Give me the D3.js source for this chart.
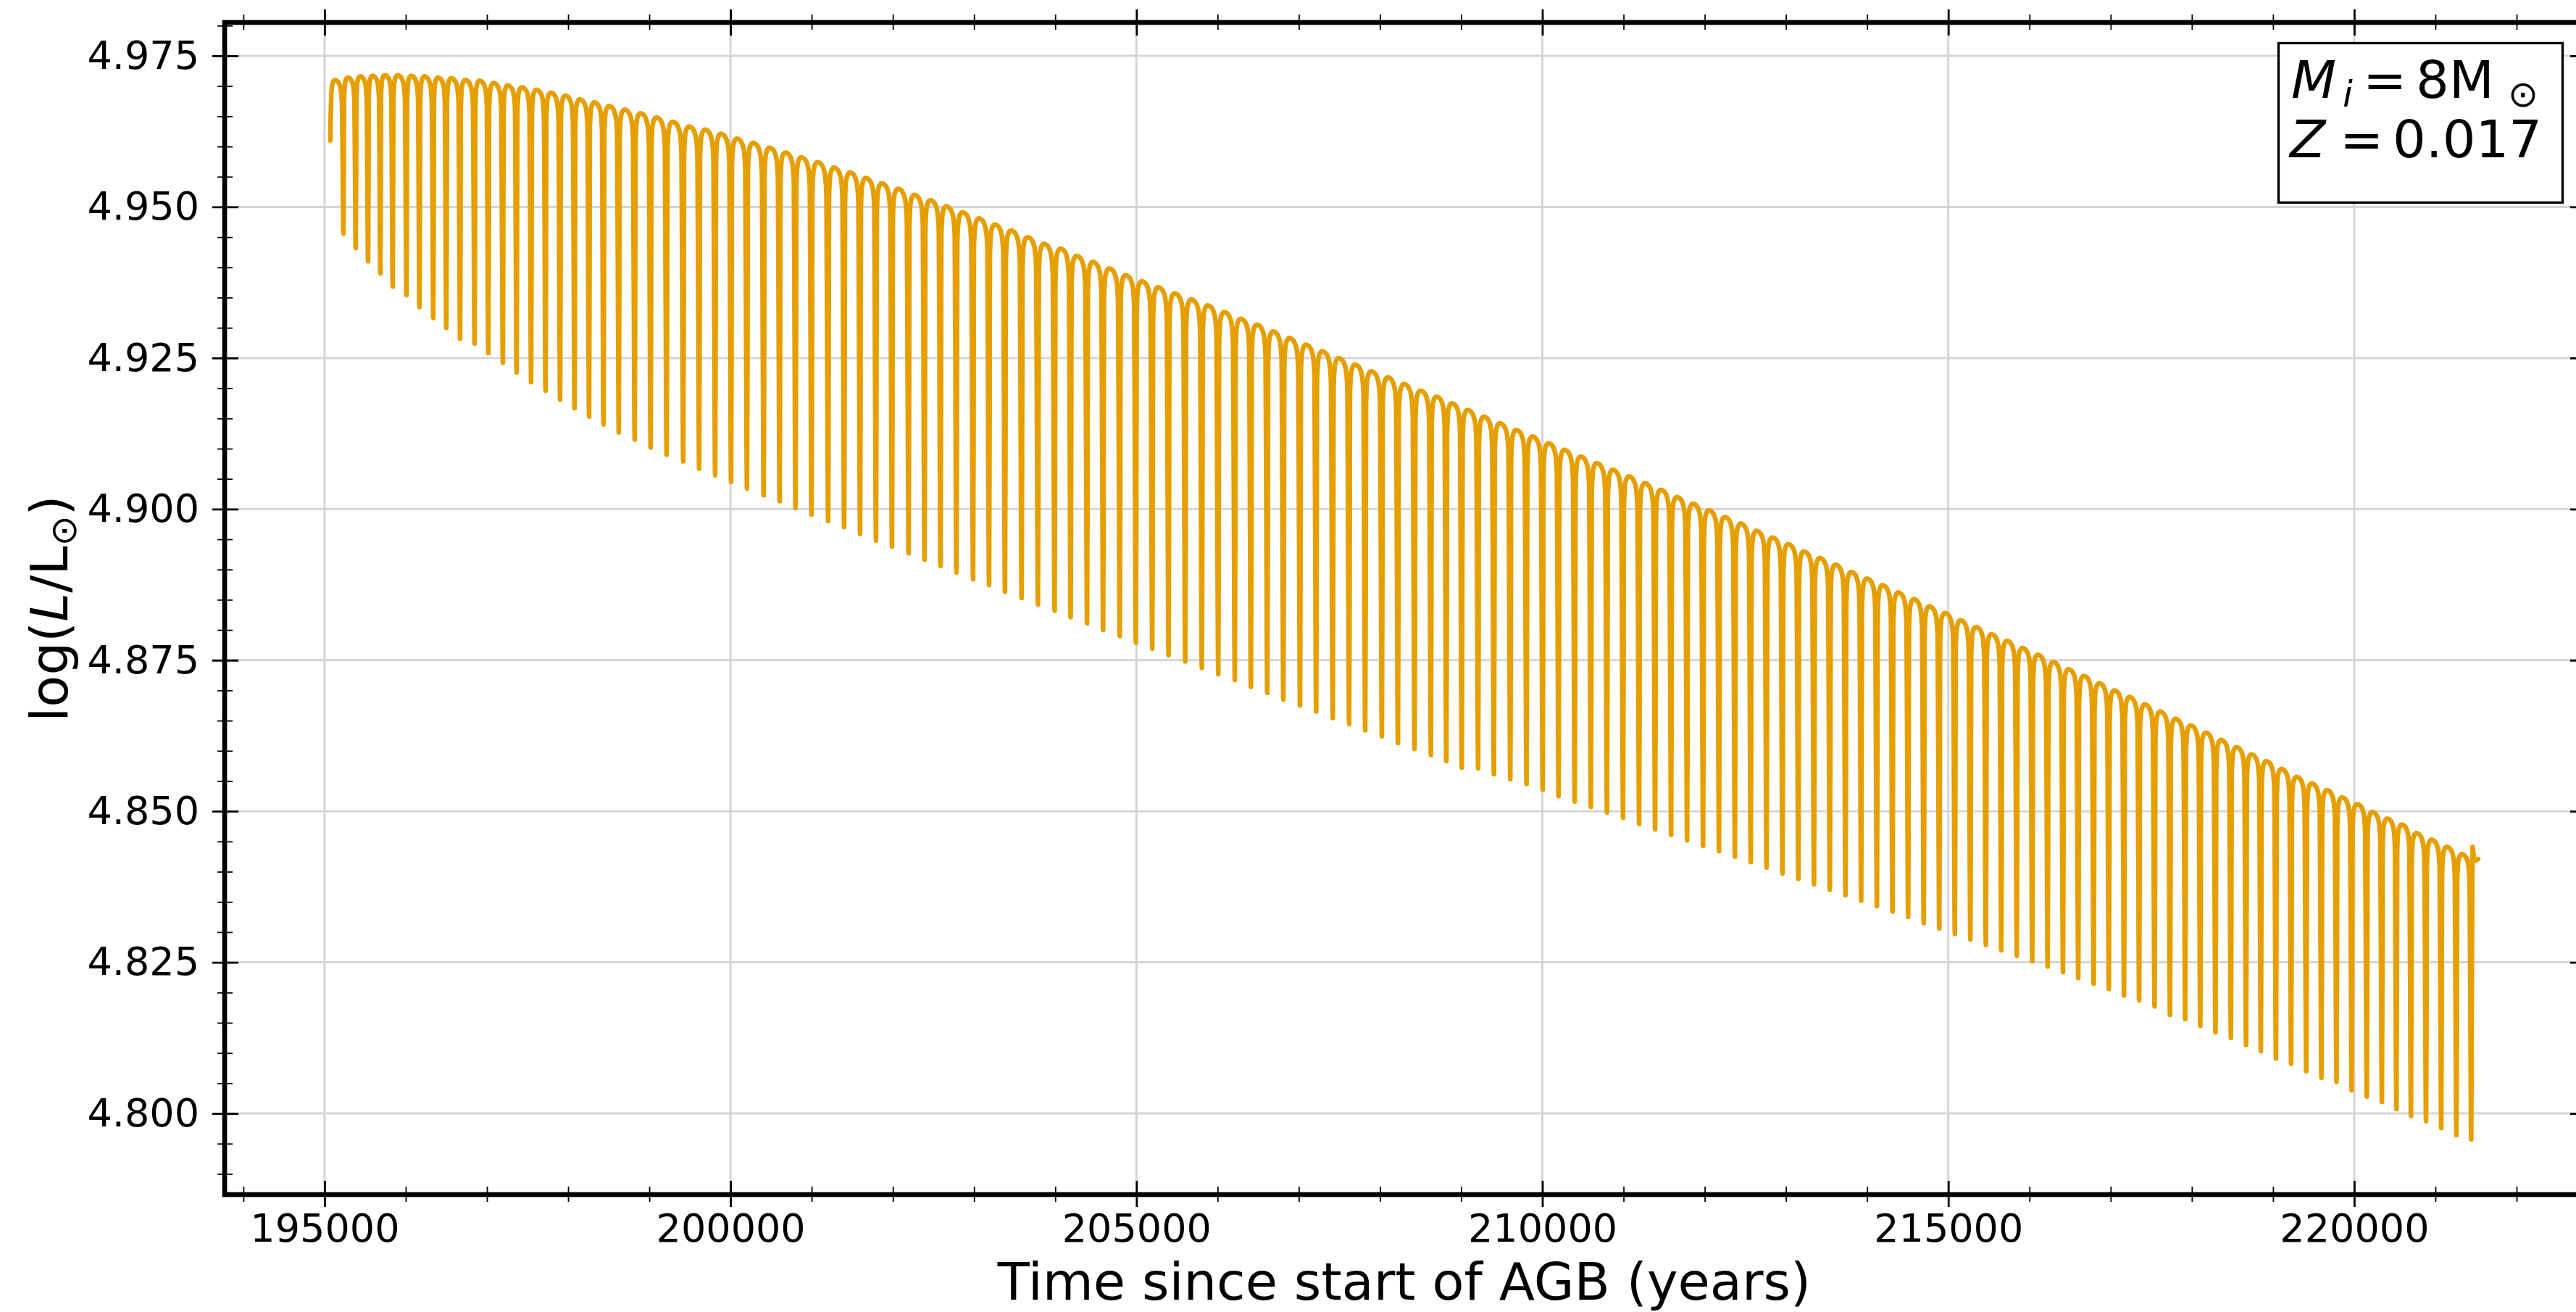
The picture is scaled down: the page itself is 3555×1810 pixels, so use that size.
<!DOCTYPE html>
<html>
<head>
<meta charset="utf-8">
<script src="https://cdn.jsdelivr.net/npm/d3@7"></script>
<style>
  html, body { margin: 0; padding: 0; background: #fff; }
  svg { display: block; }
  text { font-family: "DejaVu Sans", sans-serif; }
</style>
</head>
<body>
<div class="chart"></div>
<script>
// times of the thermal-pulse dips (years since start of AGB)
const dipTimes = [
  195232, 195384, 195536, 195687, 195839, 196009, 196169, 196339, 196499, 196669,
  196848, 197017, 197196, 197365, 197544, 197722, 197901, 198079, 198258, 198436,
  198624, 198820, 199016, 199213, 199418, 199614, 199811, 200007, 200203, 200409,
  200605, 200801, 200998, 201203, 201400, 201596, 201792, 201989, 202194, 202390,
  202587, 202783, 202988, 203185, 203381, 203586, 203787, 203992, 204190, 204392,
  204590, 204795, 204993, 205195, 205396, 205601, 205806, 206008, 206212, 206410,
  206612, 206810, 207015, 207214, 207418, 207620, 207818, 208023, 208221, 208426,
  208627, 208817, 209007, 209209, 209403, 209605, 209805, 210004, 210200, 210399,
  210598, 210796, 210994, 211192, 211389, 211586, 211783, 211980, 212176, 212372,
  212567, 212762, 212958, 213153, 213346, 213541, 213734, 213927, 214121, 214313,
  214506, 214698, 214889, 215081, 215272, 215463, 215653, 215844, 216034, 216224,
  216413, 216601, 216791, 216978, 217165, 217351, 217541, 217731, 217918, 218104,
  218291, 218481, 218668, 218850, 219036, 219223, 219409, 219596, 219782, 219969,
  220155, 220341, 220520, 220699, 220885, 221072, 221259, 221441
];

// log(L/Lsun) at the bottom of each dip
const dipLogL = [
  4.9456, 4.9432, 4.9410, 4.9390, 4.9368, 4.9354, 4.9334, 4.9316, 4.9300, 4.9282,
  4.9274, 4.9258, 4.9242, 4.9226, 4.9210, 4.9196, 4.9181, 4.9167, 4.9153, 4.9140,
  4.9127, 4.9115, 4.9102, 4.9090, 4.9079, 4.9067, 4.9056, 4.9045, 4.9034, 4.9023,
  4.9013, 4.9002, 4.8991, 4.8980, 4.8970, 4.8959, 4.8948, 4.8938, 4.8927, 4.8916,
  4.8906, 4.8895, 4.8884, 4.8874, 4.8863, 4.8853, 4.8842, 4.8832, 4.8821, 4.8811,
  4.8800, 4.8790, 4.8779, 4.8769, 4.8758, 4.8748, 4.8737, 4.8727, 4.8717, 4.8706,
  4.8696, 4.8685, 4.8675, 4.8665, 4.8654, 4.8644, 4.8634, 4.8624, 4.8613, 4.8603,
  4.8593, 4.8583, 4.8572, 4.8571, 4.8561, 4.8553, 4.8545, 4.8536, 4.8525, 4.8516,
  4.8507, 4.8498, 4.8489, 4.8479, 4.8470, 4.8461, 4.8452, 4.8443, 4.8434, 4.8425,
  4.8416, 4.8407, 4.8397, 4.8388, 4.8379, 4.8370, 4.8361, 4.8352, 4.8343, 4.8334,
  4.8325, 4.8315, 4.8306, 4.8297, 4.8288, 4.8279, 4.8270, 4.8261, 4.8252, 4.8243,
  4.8234, 4.8224, 4.8215, 4.8206, 4.8195, 4.8187, 4.8177, 4.8163, 4.8156, 4.8145,
  4.8134, 4.8125, 4.8113, 4.8103, 4.8091, 4.8082, 4.8070, 4.8059, 4.8052, 4.8038,
  4.8028, 4.8019, 4.8007, 4.7996, 4.7987, 4.7976, 4.7964, 4.7957
];

// top of each interpulse arch (index 0 = arch before the first dip)
const peakLogL = [
  4.9710, 4.9714, 4.9716, 4.9717, 4.9718, 4.9718, 4.9717, 4.9716, 4.9714, 4.9713,
  4.9710, 4.9709, 4.9705, 4.9701, 4.9698, 4.9694, 4.9689, 4.9684, 4.9678, 4.9673,
  4.9667, 4.9661, 4.9655, 4.9648, 4.9641, 4.9633, 4.9628, 4.9621, 4.9613, 4.9606,
  4.9598, 4.9590, 4.9582, 4.9574, 4.9565, 4.9557, 4.9548, 4.9539, 4.9530, 4.9520,
  4.9511, 4.9501, 4.9491, 4.9481, 4.9471, 4.9461, 4.9450, 4.9439, 4.9431, 4.9419,
  4.9409, 4.9398, 4.9387, 4.9377, 4.9367, 4.9357, 4.9347, 4.9337, 4.9326, 4.9315,
  4.9305, 4.9294, 4.9283, 4.9272, 4.9261, 4.9250, 4.9239, 4.9228, 4.9218, 4.9207,
  4.9196, 4.9186, 4.9175, 4.9164, 4.9153, 4.9142, 4.9131, 4.9120, 4.9109, 4.9098,
  4.9087, 4.9076, 4.9065, 4.9054, 4.9043, 4.9032, 4.9020, 4.9009, 4.8998, 4.8987,
  4.8976, 4.8964, 4.8953, 4.8942, 4.8930, 4.8919, 4.8908, 4.8896, 4.8885, 4.8874,
  4.8862, 4.8851, 4.8839, 4.8828, 4.8816, 4.8805, 4.8793, 4.8782, 4.8770, 4.8759,
  4.8747, 4.8735, 4.8724, 4.8712, 4.8700, 4.8689, 4.8677, 4.8665, 4.8653, 4.8642,
  4.8630, 4.8618, 4.8606, 4.8594, 4.8583, 4.8570, 4.8557, 4.8546, 4.8535, 4.8523,
  4.8512, 4.8499, 4.8488, 4.8478, 4.8464, 4.8453, 4.8441, 4.8429
];

// first point and the short piece after the last dip
const startTime = 195071, startLogL = 4.9610;
const tailTimes = [221447, 221458, 221480, 221526];
const tailLogL = [4.8165, 4.8441, 4.8418, 4.8421];

// shape of one arch: phase within the interpulse and depth below the top (in arch units)
const archPhase = [0.05, 0.075, 0.11, 0.17, 0.25, 0.35, 0.46, 0.58, 0.68, 0.76, 0.82, 0.86, 0.895];
const archDepth = [2.6, 1.5, 0.8, 0.35, 0.1, 0, 0.04, 0.16, 0.36, 0.66, 1.05, 1.6, 2.5];

const xMajorTicks = [195000, 200000, 205000, 210000, 215000, 220000];
const yMajorTicks = [4.800, 4.825, 4.850, 4.875, 4.900, 4.925, 4.950, 4.975];

(function(){
    const svgWidth = 3555, svgHeight = 1810;
    const margin = { top: 31, left: 310 };
    const width = 3256, height = 1617;

    const svg = d3.select(".chart").append("svg")
        .attr("width", svgWidth)
        .attr("height", svgHeight)
        .style("background", "#fff");

    const chartGroup = svg.append("g")
        .attr("transform", `translate(${margin.left}, ${margin.top})`);

    const xScale = d3.scaleLinear().domain([193769, 222830]).range([0, width]);
    const yScale = d3.scaleLinear().domain([4.78657, 4.98052]).range([height, 0]);

    const xMinor = d3.range(194000, 222001, 1000).filter(v => v % 5000 !== 0);
    const yMinor = d3.range(4790, 4981, 5).filter(v => v % 25 !== 0).map(v => v / 1000);

    // grid
    const grid = chartGroup.append("g");
    grid.selectAll(".gx").data(xMajorTicks).enter().append("line")
        .attr("x1", d => xScale(d)).attr("x2", d => xScale(d))
        .attr("y1", 0).attr("y2", height)
        .attr("stroke", "#d5d5d5").attr("stroke-width", 3);
    grid.selectAll(".gy").data(yMajorTicks).enter().append("line")
        .attr("x1", 0).attr("x2", width)
        .attr("y1", d => yScale(d)).attr("y2", d => yScale(d))
        .attr("stroke", "#d5d5d5").attr("stroke-width", 3);

    // build the light curve
    const points = [[startTime, startLogL]];
    peakLogL.forEach((H, k) => {
        const t0 = k === 0 ? startTime : dipTimes[k - 1];
        const d0 = k === 0 ? startLogL : dipLogL[k - 1];
        const t1 = dipTimes[k], d1 = dipLogL[k];
        const P = t1 - t0, h = 0.0000105 * P;
        points.push([t0 + 0.03 * P, d0 + 0.45 * (H - d0)]);
        archPhase.forEach((u, i) => points.push([t0 + u * P, H - archDepth[i] * h]));
        points.push([t0 + 0.94 * P, d1 + 0.5 * (H - d1)]);
        points.push([t1, d1]);
    });
    tailTimes.forEach((t, i) => points.push([t, tailLogL[i]]));

    const line = d3.line()
        .x(d => xScale(d[0]))
        .y(d => yScale(d[1]))
        .curve(d3.curveMonotoneX);

    chartGroup.append("path")
        .datum(points)
        .attr("d", line)
        .attr("fill", "none")
        .attr("stroke", "#E69F00")
        .attr("stroke-width", 6.5)
        .attr("stroke-linejoin", "round")
        .attr("stroke-linecap", "round");

    // axes: ticks cross the spines (in and out)
    const styleAxis = (g, w) => {
        g.select(".domain").remove();
        g.selectAll(".tick line").attr("stroke", "#000").attr("stroke-width", w);
        g.selectAll("text")
            .attr("font-family", "DejaVu Sans")
            .attr("font-size", 54)
            .attr("fill", "#000");
    };

    chartGroup.append("g")
        .attr("transform", `translate(0, ${height + 17})`)
        .call(d3.axisBottom(xScale).tickValues(xMajorTicks).tickFormat(d3.format("d"))
            .tickSizeInner(-36).tickSizeOuter(0).tickPadding(10))
        .call(g => styleAxis(g, 2.8));
    chartGroup.append("g")
        .attr("transform", `translate(0, ${height + 10})`)
        .call(d3.axisBottom(xScale).tickValues(xMinor).tickFormat("").tickSizeInner(-21).tickSizeOuter(0))
        .call(g => styleAxis(g, 1.8));

    chartGroup.append("g")
        .attr("transform", "translate(0, -18)")
        .call(d3.axisTop(xScale).tickValues(xMajorTicks).tickFormat("").tickSizeInner(-36).tickSizeOuter(0))
        .call(g => styleAxis(g, 2.8));
    chartGroup.append("g")
        .attr("transform", "translate(0, -11)")
        .call(d3.axisTop(xScale).tickValues(xMinor).tickFormat("").tickSizeInner(-21).tickSizeOuter(0))
        .call(g => styleAxis(g, 1.8));

    chartGroup.append("g")
        .attr("transform", "translate(-17, 0)")
        .call(d3.axisLeft(yScale).tickValues(yMajorTicks).tickFormat(d3.format(".3f"))
            .tickSizeInner(-36).tickSizeOuter(0).tickPadding(18))
        .call(g => styleAxis(g, 2.8));
    chartGroup.append("g")
        .attr("transform", "translate(-10, 0)")
        .call(d3.axisLeft(yScale).tickValues(yMinor).tickFormat("").tickSizeInner(-21).tickSizeOuter(0))
        .call(g => styleAxis(g, 1.8));

    chartGroup.append("g")
        .attr("transform", `translate(${width + 17}, 0)`)
        .call(d3.axisRight(yScale).tickValues(yMajorTicks).tickFormat("").tickSizeInner(-36).tickSizeOuter(0))
        .call(g => styleAxis(g, 2.8));
    chartGroup.append("g")
        .attr("transform", `translate(${width + 10}, 0)`)
        .call(d3.axisRight(yScale).tickValues(yMinor).tickFormat("").tickSizeInner(-21).tickSizeOuter(0))
        .call(g => styleAxis(g, 1.8));

    // spines
    chartGroup.append("rect")
        .attr("x", 0).attr("y", 0)
        .attr("width", width).attr("height", height)
        .attr("fill", "none")
        .attr("stroke", "#000")
        .attr("stroke-width", 6.7);

    // axis titles
    svg.append("text")
        .attr("x", margin.left + width / 2)
        .attr("y", 1793)
        .attr("text-anchor", "middle")
        .attr("font-size", 72)
        .text("Time since start of AGB (years)");

    const yTitle = svg.append("text")
        .attr("transform", `translate(93, ${margin.top + height / 2}) rotate(-90)`)
        .attr("text-anchor", "middle")
        .attr("font-size", 72);
    yTitle.append("tspan").text("log(");
    yTitle.append("tspan").attr("font-style", "italic").text("L");
    yTitle.append("tspan").text("/L");
    yTitle.append("tspan").attr("font-size", 50).attr("dy", 12).text("⊙");
    yTitle.append("tspan").attr("dy", -12).text(")");

    // legend box
    svg.append("rect")
        .attr("x", 3144.5).attr("y", 59.5)
        .attr("width", 392).attr("height", 220)
        .attr("fill", "#fff")
        .attr("stroke", "#000")
        .attr("stroke-width", 3.3);

    const l1 = svg.append("text").attr("font-size", 72);
    l1.append("tspan").attr("x", 3162).attr("y", 135).attr("font-style", "italic").text("M");
    l1.append("tspan").attr("x", 3233).attr("y", 147).attr("font-style", "italic").attr("font-size", 50).text("i");
    l1.append("tspan").attr("x", 3261).attr("y", 135).text("=");
    l1.append("tspan").attr("x", 3334).attr("y", 135).text("8M");
    l1.append("tspan").attr("x", 3461).attr("y", 147).attr("font-size", 50).text("⊙");

    const l2 = svg.append("text").attr("font-size", 72);
    l2.append("tspan").attr("x", 3160).attr("y", 217).attr("font-style", "italic").text("Z");
    l2.append("tspan").attr("x", 3229).attr("y", 217).text("=");
    l2.append("tspan").attr("x", 3302).attr("y", 217).text("0.017");
})();
</script>
</body>
</html>
